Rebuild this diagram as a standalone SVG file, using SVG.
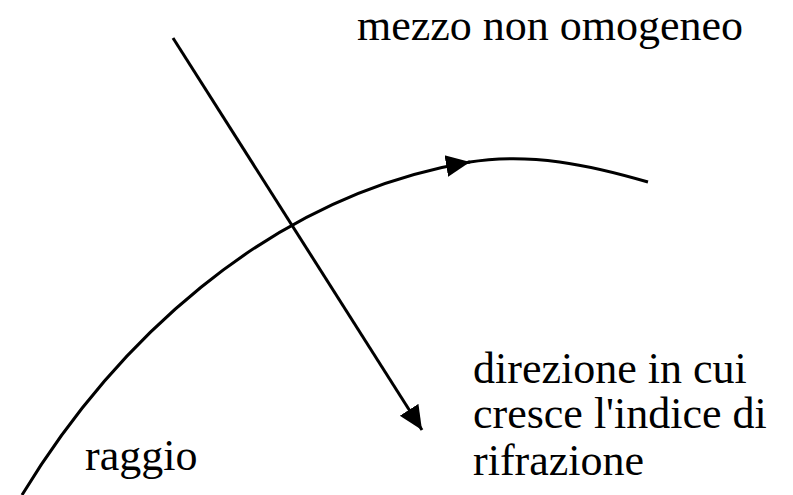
<svg xmlns="http://www.w3.org/2000/svg" width="793" height="495" viewBox="0 0 793 495">
<style>
.ln{fill:none;stroke:#000;stroke-width:3;}
text{font-family:'Liberation Serif','DejaVu Serif',serif;font-size:44px;fill:#000;}
</style>
<defs>
<marker id="ah" markerUnits="userSpaceOnUse" markerWidth="26" markerHeight="24" refX="24" refY="12" orient="auto" viewBox="0 0 26 24">
<path d="M0,1 L24,12 L0,23 Z" fill="#000"/>
</marker>
</defs>
<rect width="793" height="495" fill="#fff"/>
<g id="connectors">
<path id="raggio-curve-1" class="ln" d="M22,495 C110,350 262,197 470,162" marker-end="url(#ah)"/>
<path id="raggio-curve-2" class="ln" d="M468,162.3 C530,152 590,165 648,182"/>
<path id="gradient-arrow" class="ln" d="M173,38 L422,430" marker-end="url(#ah)"/>
</g>
<g id="label-mezzo"><text x="357" y="40">mezzo non omogeneo</text></g>
<g id="label-direzione">
<text x="473" y="383">direzione in cui</text>
<text x="473" y="428">cresce l'indice di</text>
<text x="473" y="475">rifrazione</text>
</g>
<g id="label-raggio"><text x="85" y="470">raggio</text></g>
</svg>
